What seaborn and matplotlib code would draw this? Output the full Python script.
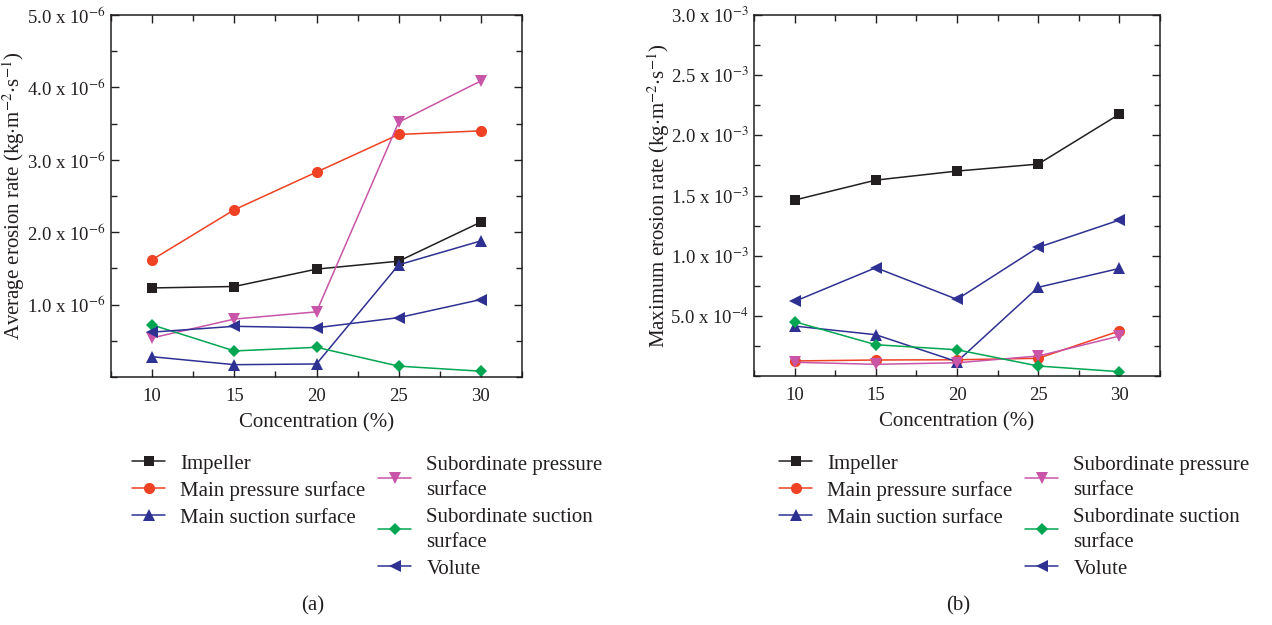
import numpy as np
import pandas as pd
import matplotlib
matplotlib.use('Agg')
import matplotlib.pyplot as plt
import seaborn as sns
from matplotlib.ticker import FixedLocator, MultipleLocator

sns.set_theme(style="ticks")
plt.rcParams['font.family'] = ['Liberation Serif', 'DejaVu Serif']
plt.rcParams['mathtext.fontset'] = 'stix'

# Data
concentration = [10, 15, 20, 25, 30]
series_names = ['Impeller', 'Main pressure surface', 'Main suction surface',
                'Subordinate pressure\nsurface', 'Subordinate suction\nsurface', 'Volute']

# (a) average erosion rate, units of 1e-6
avg_impeller = [1.23, 1.25, 1.49, 1.60, 2.14]
avg_main_pressure = [1.62, 2.31, 2.83, 3.35, 3.40]
avg_main_suction = [0.28, 0.17, 0.18, 1.55, 1.88]
avg_sub_pressure = [0.54, 0.80, 0.90, 3.52, 4.09]
avg_sub_suction = [0.72, 0.36, 0.41, 0.15, 0.08]
avg_volute = [0.62, 0.70, 0.68, 0.82, 1.07]

# (b) maximum erosion rate, units of 1e-3
max_impeller = [1.462, 1.628, 1.703, 1.761, 2.176]
max_main_pressure = [0.125, 0.133, 0.135, 0.147, 0.374]
max_main_suction = [0.415, 0.343, 0.119, 0.737, 0.894]
max_sub_pressure = [0.114, 0.097, 0.110, 0.166, 0.332]
max_sub_suction = [0.451, 0.260, 0.218, 0.083, 0.036]
max_volute = [0.620, 0.900, 0.637, 1.069, 1.296]

colors = ['#231f20', '#ef4123', '#2e3192', '#c955a8', '#00a651', '#2e3192']
markers = ['s', 'o', '^', 'v', 'D', '<']
msizes = [7, 8, 8, 8, 6, 8]

avg_data = [avg_impeller, avg_main_pressure, avg_main_suction,
            avg_sub_pressure, avg_sub_suction, avg_volute]
max_data = [max_impeller, max_main_pressure, max_main_suction,
            max_sub_pressure, max_sub_suction, max_volute]

fig = plt.figure(figsize=(12.72, 6.25), dpi=100)
ax1 = fig.add_axes([111/1272, 248/625, 411/1272, 362/625])
ax2 = fig.add_axes([754/1272, 249/625, 406/1272, 361/625])

txt_color = '#231f20'


def draw_panel(ax, data, scale):
    for name, vals, c, m, ms in zip(series_names, data, colors, markers, msizes):
        df = pd.DataFrame({'x': concentration, 'y': np.array(vals) * scale})
        sns.lineplot(data=df, x='x', y='y', ax=ax, color=c, marker=m,
                     markersize=ms, markeredgewidth=0, linewidth=1.1, label=name)
    ax.set_xlim(7.5, 32.5)
    ax.xaxis.set_major_locator(FixedLocator(concentration))
    ax.xaxis.set_minor_locator(MultipleLocator(2.5))
    ax.tick_params(which='both', direction='in', top=True, right=True,
                   colors=txt_color, labelsize=13.5)
    ax.tick_params(which='major', length=6, width=1)
    ax.tick_params(which='minor', length=4, width=1)
    ax.tick_params(axis='x', pad=8)
    ax.tick_params(axis='y', pad=4)
    for sp in ax.spines.values():
        sp.set_color(txt_color)
        sp.set_linewidth(1.1)
    ax.set_xlabel('Concentration (%)', fontsize=15, color=txt_color, labelpad=6)
    ax.get_legend().remove()


draw_panel(ax1, avg_data, 1e-6)
ax1.set_ylim(0, 5e-6)
yt1 = [1e-6, 2e-6, 3e-6, 4e-6, 5e-6]
ax1.set_yticks(yt1)
ax1.set_yticklabels(['%.1f x 10$^{-6}$' % (v / 1e-6) for v in yt1])
ax1.yaxis.set_minor_locator(MultipleLocator(0.5e-6))
ax1.set_ylabel('Average erosion rate (kg$\\cdot$m$^{-2}$$\\cdot$s$^{-1}$)',
               fontsize=15, color=txt_color)
ax1.yaxis.set_label_coords(-84 / 411, 0.5)

draw_panel(ax2, max_data, 1e-3)
ax2.set_ylim(0, 3e-3)
yt2 = [0.5e-3, 1.0e-3, 1.5e-3, 2.0e-3, 2.5e-3, 3.0e-3]
ax2.set_yticks(yt2)
ax2.set_yticklabels(['5.0 x 10$^{-4}$'] + ['%.1f x 10$^{-3}$' % (v / 1e-3) for v in yt2[1:]])
ax2.yaxis.set_minor_locator(MultipleLocator(0.25e-3))
ax2.set_ylabel('Maximum erosion rate (kg$\\cdot$m$^{-2}$$\\cdot$s$^{-1}$)',
               fontsize=15, color=txt_color)
ax2.yaxis.set_label_coords(-82 / 406, 0.5)

# legend: two independent columns below each panel
for ax, lx, tag, tx in [(ax1, 132, '(a)', 313), (ax2, 779, '(b)', 958)]:
    handles, labels = ax.get_legend_handles_labels()
    for col, x0, y0 in [(0, lx, 454), (1, lx + 246, 456)]:
        leg = fig.legend(handles[3 * col:3 * col + 3], labels[3 * col:3 * col + 3],
                         loc='upper left', ncol=1, frameon=False,
                         bbox_to_anchor=(x0 / 1272, 1 - y0 / 625), fontsize=15,
                         handlelength=1.6, handletextpad=0.72,
                         labelspacing=0.35, borderpad=0, borderaxespad=0,
                         labelcolor=txt_color)
        for t in leg.get_texts():
            t.set_linespacing(1.45)
    fig.text(tx / 1272, 1 - 606 / 625, tag, ha='center', va='center',
             fontsize=15, color=txt_color)

fig.savefig('out.png', dpi=100)
